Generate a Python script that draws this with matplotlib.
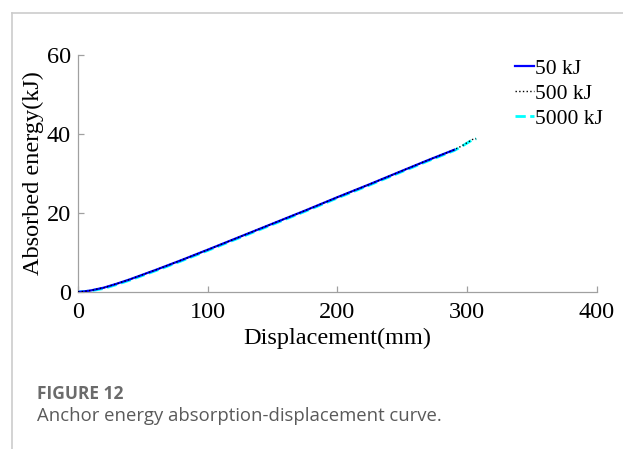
import matplotlib
matplotlib.use("Agg")
import matplotlib.pyplot as plt
from matplotlib.lines import Line2D

# curves (displacement mm, absorbed energy kJ)
disp_50 = [0, 5, 10, 20, 30, 40, 60, 80, 100, 125, 150, 175, 200, 225, 250, 270, 290]
energy_50 = [0, 0.15, 0.4, 1.1, 2.1, 3.2, 5.6, 8.1, 10.7, 14.0, 17.3, 20.6, 24.0, 27.3, 30.7, 33.4, 36.0]

disp_500 = [0, 5, 10, 20, 30, 40, 60, 80, 100, 125, 150, 175, 200, 225, 250, 270, 290, 296, 301, 304, 307]
energy_500 = [0, 0.15, 0.4, 1.1, 2.1, 3.2, 5.6, 8.1, 10.7, 14.0, 17.3, 20.6, 24.0, 27.3, 30.7, 33.4, 36.0, 37.0, 38.0, 38.6, 38.8]

disp_5000 = [0, 5, 10, 20, 30, 40, 60, 80, 100, 125, 150, 175, 200, 225, 250, 270, 290, 296, 301, 304, 307]
energy_5000 = [0, 0.1, 0.3, 0.9, 1.9, 3.0, 5.4, 7.9, 10.5, 13.8, 17.1, 20.4, 23.8, 27.1, 30.5, 33.2, 35.8, 36.9, 37.9, 38.5, 38.8]

labels = ["50 kJ", "500 kJ", "5000 kJ"]
x_ticks = [0, 100, 200, 300, 400]
y_ticks = [0, 20, 40, 60]

serif = "Liberation Serif"
gris = "#a0a0a0"

fig = plt.figure(figsize=(6.23, 4.49), dpi=100)
ax = fig.add_axes([0.1252, 0.3497, 0.8328, 0.5278])

l3, = ax.plot(disp_5000, energy_5000, "--", color="#00ffff", lw=2.0, label=labels[2], zorder=2)
l1, = ax.plot(disp_50, energy_50, "-", color="#0000ff", lw=1.6, label=labels[0], zorder=3)
l2, = ax.plot(disp_500, energy_500, ":", color="black", lw=1.0, label=labels[1], zorder=4)

ax.set_xlim(0, 400)
ax.set_ylim(0, 60)
ax.set_xticks(x_ticks)
ax.set_yticks(y_ticks)
for s in ["top", "right"]:
    ax.spines[s].set_visible(False)
for s in ["left", "bottom"]:
    ax.spines[s].set_color(gris)
    ax.spines[s].set_linewidth(0.9)
ax.tick_params(direction="in", length=4, color=gris, width=0.9, labelsize=17.5)
ax.tick_params(axis="x", pad=7)
ax.tick_params(axis="y", pad=5)
for t in ax.get_xticklabels() + ax.get_yticklabels():
    t.set_fontfamily(serif)

ax.set_xlabel("Displacement(mm)", fontsize=17.5, fontfamily=serif, labelpad=4)
ax.set_ylabel("Absorbed energy(kJ)", fontsize=17.5, fontfamily=serif, labelpad=2)

leg = fig.legend(handles=[l1, l2, l3], labels=labels, loc="upper left",
                 bbox_to_anchor=(0.795, 0.912), frameon=False,
                 handlelength=0.9, handletextpad=0.05, labelspacing=0.22,
                 prop={"family": serif, "size": 15.5})

# card border (top and left)
fig.add_artist(Line2D([0.0193, 1.0], [0.971, 0.971], color="#cccccc", lw=1.2))
fig.add_artist(Line2D([0.0193, 0.0193], [0.0, 0.971], color="#cccccc", lw=1.2))

fig.text(0.059, 0.111, "FIGURE 12", fontsize=12.5, fontweight="bold",
         color="#6b6b6b", fontfamily="Open Sans", va="baseline")
fig.text(0.059, 0.062, "Anchor energy absorption-displacement curve.", fontsize=13.3,
         color="#5a5a5a", fontfamily="Open Sans", va="baseline")

fig.savefig("out.png", dpi=100)
